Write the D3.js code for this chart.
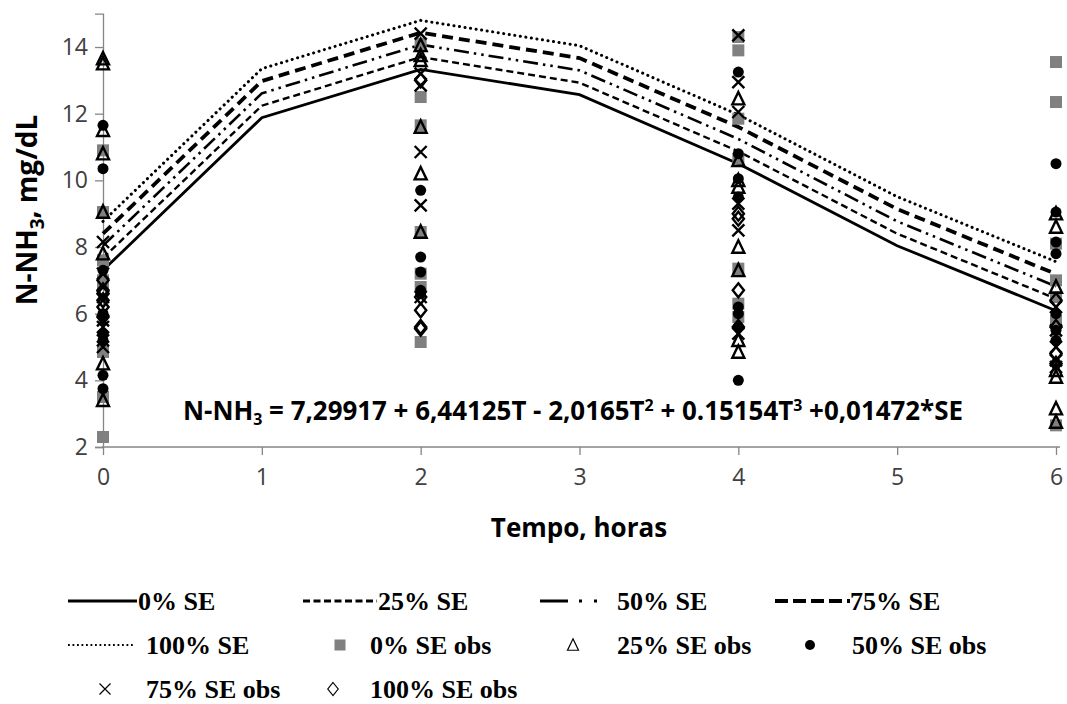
<!DOCTYPE html>
<html>
<head>
<meta charset="utf-8">
<script src="https://cdn.jsdelivr.net/npm/d3@7"></script>
<style>
  html, body { margin: 0; padding: 0; background: #ffffff; }
  svg { display: block; }
</style>
</head>
<body>
<div id="chart"></div>
<script>
// Fitted curves, N-NH3 (mg/dL) per hour, for each SE inclusion level
const hours = [0, 1, 2, 3, 4, 5, 6];
const fit0   = [7.30, 11.88, 13.33, 12.57, 10.50, 8.04, 6.09];
const fit25  = [7.67, 12.24, 13.70, 12.93, 10.87, 8.40, 6.45];
const fit50  = [8.04, 12.61, 14.07, 13.30, 11.24, 8.77, 6.82];
const fit75  = [8.40, 12.98, 14.43, 13.67, 11.60, 9.14, 7.19];
const fit100 = [8.77, 13.35, 14.80, 14.04, 11.97, 9.51, 7.56];

// Observed values, one inner list per sampling hour
const obsHours = [0, 2, 4, 6];
const obs0   = [[10.9, 9.05, 7.6, 7.0, 6.9, 4.85, 3.5, 2.3],
                [14.1, 12.5, 11.65, 8.45, 7.2, 6.8, 5.15],
                [14.3, 13.9, 11.85, 10.65, 7.35, 6.3, 5.9],
                [13.55, 12.35, 8.1, 7.0, 6.5, 5.8, 2.65]];
const obs25  = [[13.65, 13.5, 11.5, 10.8, 9.05, 7.8, 4.5, 3.4],
                [14.05, 13.75, 13.6, 11.6, 10.2, 8.45],
                [12.45, 10.6, 10.0, 9.8, 8.0, 7.3, 5.2, 4.85],
                [9.0, 8.6, 6.8, 4.3, 4.1, 3.15, 2.75]];
const obs50  = [[11.65, 10.35, 7.3, 6.0, 5.4, 5.2, 4.15, 3.75],
                [9.7, 7.7, 7.25, 6.7, 6.6],
                [13.25, 10.8, 10.05, 9.5, 6.2, 6.0, 5.6, 4.0],
                [10.5, 9.05, 8.15, 7.8, 6.0, 5.5, 5.2]];
const obs75  = [[8.15, 7.2, 6.5, 5.8, 5.6, 5.2, 5.0],
                [14.4, 13.2, 12.85, 10.85, 9.25, 6.5],
                [14.35, 12.95, 12.05, 9.3, 8.5, 5.4],
                [6.2, 5.5, 5.0, 4.6, 4.4]];
const obs100 = [[7.0, 6.7, 6.4, 6.2, 5.9, 6.6],
                [13.0, 6.5, 6.1, 5.6, 5.55],
                [9.0, 8.85, 6.7, 5.6],
                [6.4, 5.6, 4.8, 4.5]];

const yTicks = [2, 4, 6, 8, 10, 12, 14];
const xTicks = [0, 1, 2, 3, 4, 5, 6];

const fitLabels = ["0% SE", "25% SE", "50% SE", "75% SE", "100% SE"];
const obsLabels = ["0% SE obs", "25% SE obs", "50% SE obs", "75% SE obs", "100% SE obs"];

const W = 1067, H = 704;
const svg = d3.select("#chart").append("svg").attr("width", W).attr("height", H);

const x = d3.scaleLinear().domain([0, 6]).range([103, 1056]);
const y = d3.scaleLinear().domain([2, 15]).range([447, 13.7]);

const axisColor = "#868686";
const tickFont = "'Open Sans', 'Noto Sans', sans-serif";

// Y axis
const yAxis = svg.append("g").attr("transform", `translate(${x(0)},0)`)
  .call(d3.axisLeft(y).tickValues(yTicks).tickSize(8).tickPadding(7).tickFormat(d3.format("d")));
yAxis.select(".domain").attr("stroke", axisColor).attr("stroke-width", 1.3);
yAxis.selectAll(".tick line").attr("stroke", axisColor).attr("stroke-width", 1.3);
yAxis.selectAll(".tick text").attr("fill", "#404040").style("font-family", tickFont).style("font-size", "23px");

// X axis
const xAxis = svg.append("g").attr("transform", `translate(0,${y(2)})`)
  .call(d3.axisBottom(x).tickValues(xTicks).tickSize(8).tickPadding(14).tickFormat(d3.format("d")));
xAxis.select(".domain").attr("stroke", axisColor).attr("stroke-width", 1.3)
  .attr("d", `M${x(0) - 1},0H${x(6) + 4}`);
xAxis.selectAll(".tick line").attr("stroke", axisColor).attr("stroke-width", 1.3);
xAxis.selectAll(".tick text").attr("fill", "#404040").style("font-family", tickFont).style("font-size", "23px");

// Axis titles
svg.append("text")
  .attr("transform", `translate(37,210) rotate(-90)`)
  .attr("text-anchor", "middle")
  .style("font-family", tickFont).style("font-weight", "bold").style("font-size", "28px")
  .call(t => {
    t.append("tspan").text("N-NH");
    t.append("tspan").attr("dy", 7).style("font-size", "19px").text("3");
    t.append("tspan").attr("dy", -7).text(", mg/dL");
  });

svg.append("text")
  .attr("x", 579).attr("y", 537)
  .attr("text-anchor", "middle")
  .style("font-family", tickFont).style("font-weight", "bold").style("font-size", "26px")
  .text("Tempo, horas");

// Line styles for the fitted series
const lineStyles = [
  { dash: null,                 width: 2.8, cap: "butt" },
  { dash: "7,4",                width: 2.4, cap: "butt" },
  { dash: "15,5,2.5,5,2.5,5",   width: 2.6, cap: "butt" },
  { dash: "11,6",               width: 3.8, cap: "butt" },
  { dash: "0.1,5.5",            width: 3.0, cap: "round" }
];
const fits = [fit0, fit25, fit50, fit75, fit100];

const line = d3.line().x((d, i) => x(hours[i])).y(d => y(d));
fits.forEach((f, k) => {
  svg.append("path")
    .datum(f)
    .attr("d", line)
    .attr("fill", "none")
    .attr("stroke", "#000")
    .attr("stroke-width", lineStyles[k].width)
    .attr("stroke-linecap", lineStyles[k].cap)
    .attr("stroke-dasharray", lineStyles[k].dash);
});

// Marker drawing
function drawMarker(g, kind, cx, cy, s, sw) {
  if (kind === 0) {
    g.append("rect").attr("x", cx - s / 2).attr("y", cy - s / 2).attr("width", s).attr("height", s)
      .attr("fill", "#808080");
  } else if (kind === 1) {
    const h = s * 0.95;
    g.append("path")
      .attr("d", `M${cx},${cy - h / 2 - 1}L${cx + s / 2},${cy + h / 2}L${cx - s / 2},${cy + h / 2}Z`)
      .attr("fill", "none").attr("stroke", "#000").attr("stroke-width", sw).attr("stroke-linejoin", "miter");
  } else if (kind === 2) {
    g.append("circle").attr("cx", cx).attr("cy", cy).attr("r", s / 2).attr("fill", "#000");
  } else if (kind === 3) {
    const r = s / 2;
    g.append("path")
      .attr("d", `M${cx - r},${cy - r}L${cx + r},${cy + r}M${cx - r},${cy + r}L${cx + r},${cy - r}`)
      .attr("stroke", "#000").attr("stroke-width", sw).attr("fill", "none");
  } else {
    const r = s / 2 + 1;
    g.append("path")
      .attr("d", `M${cx},${cy - r}L${cx + r * 0.8},${cy}L${cx},${cy + r}L${cx - r * 0.8},${cy}Z`)
      .attr("fill", "none").attr("stroke", "#000").attr("stroke-width", sw);
  }
}

const observed = [obs0, obs25, obs50, obs75, obs100];
const pts = svg.append("g");
observed.forEach((series, k) => {
  series.forEach((vals, j) => {
    vals.forEach(v => drawMarker(pts, k, x(obsHours[j]), y(v), k === 2 ? 11 : 12, 2.4));
  });
});

// Regression equation
svg.append("text")
  .attr("x", 183).attr("y", 420)
  .attr("textLength", 780).attr("lengthAdjust", "spacingAndGlyphs")
  .style("font-family", "'Liberation Sans Narrow', 'Open Sans', sans-serif")
  .style("font-weight", "bold").style("font-size", "26px")
  .call(t => {
    t.append("tspan").text("N-NH");
    t.append("tspan").attr("dy", 5).style("font-size", "16px").text("3");
    t.append("tspan").attr("dy", -5).text(" = 7,29917 + 6,44125T - 2,0165T");
    t.append("tspan").attr("dy", -9).style("font-size", "16px").text("2");
    t.append("tspan").attr("dy", 9).text(" + 0.15154T");
    t.append("tspan").attr("dy", -9).style("font-size", "16px").text("3");
    t.append("tspan").attr("dy", 9).text(" +0,01472*SE");
  });

// Legend
const legFont = "'Liberation Serif', 'Times New Roman', serif";
const legend = svg.append("g");
const lineItems = [
  { k: 0, x0: 68,  x1: 137, tx: 138, ty: 601 },
  { k: 1, x0: 303, x1: 377, tx: 378, ty: 601 },
  { k: 2, x0: 540, x1: 600, tx: 617, ty: 601 },
  { k: 3, x0: 775, x1: 850, tx: 850, ty: 601 },
  { k: 4, x0: 68,  x1: 133, tx: 146, ty: 645 }
];
const legDash = [null, "7,3.5", "28,11,3,12,3,12", "13,5", "1.8,2.7"];
const legWidth = [3, 3, 3.2, 4, 1.8];
lineItems.forEach(it => {
  legend.append("line")
    .attr("x1", it.x0).attr("x2", it.x1).attr("y1", it.ty).attr("y2", it.ty)
    .attr("stroke", "#000").attr("stroke-width", legWidth[it.k])
    .attr("stroke-dasharray", legDash[it.k]);
  legend.append("text").attr("x", it.tx).attr("y", it.ty + 9)
    .style("font-family", legFont).style("font-weight", "bold").style("font-size", "26px")
    .text(fitLabels[it.k]);
});
const obsItems = [
  { k: 0, mx: 340, tx: 370, ty: 645 },
  { k: 1, mx: 573, tx: 617, ty: 645 },
  { k: 2, mx: 810, tx: 852, ty: 645 },
  { k: 3, mx: 105, tx: 146, ty: 689 },
  { k: 4, mx: 333, tx: 370, ty: 689 }
];
obsItems.forEach(it => {
  drawMarker(legend, it.k, it.mx, it.ty, it.k === 2 ? 10 : 11, 1.2);
  legend.append("text").attr("x", it.tx).attr("y", it.ty + 9)
    .style("font-family", legFont).style("font-weight", "bold").style("font-size", "26px")
    .text(obsLabels[it.k]);
});
</script>
</body>
</html>
